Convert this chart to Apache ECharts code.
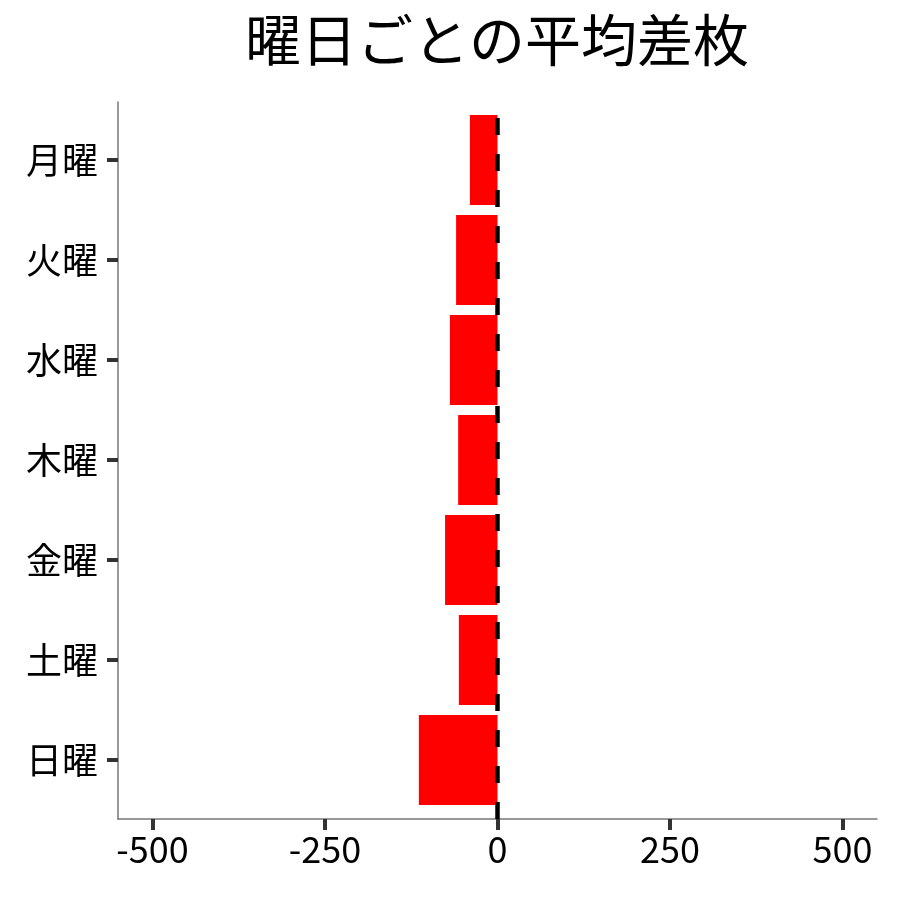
<!DOCTYPE html>
<html>
<head>
<meta charset="utf-8">
<script src="https://cdn.jsdelivr.net/npm/echarts@6/dist/echarts.min.js"></script>
<style>
  html, body { margin: 0; padding: 0; background: #fff; }
  #chart { width: 900px; height: 900px; }
</style>
</head>
<body>
<div id="chart"></div>
<script>
// 曜日ごとの平均差枚
const days = ['月曜', '火曜', '水曜', '木曜', '金曜', '土曜', '日曜'];
const avgDiff = [-40, -60, -69, -57, -76, -56, -114];
const xTicks = [-500, -250, 0, 250, 500];

const FONT = '"Noto Sans CJK JP", "Noto Sans", sans-serif';

const chart = echarts.init(document.getElementById('chart'));

const option = {
    backgroundColor: '#fff',
    animation: false,
    title: {
        text: '曜日ごとの平均差枚',
        left: 492,
        textAlign: 'center',
        top: 7,
        textStyle: { fontFamily: FONT, fontSize: 56, fontWeight: 'normal', color: '#000' }
    },
    grid: [
        // 軸線用
        { left: 118, right: 23, top: 102, bottom: 81 },
        // 棒グラフ用
        { left: 118, right: 23, top: 110, height: 700 }
    ],
    xAxis: [
        {
            gridIndex: 0,
            type: 'value',
            min: -550,
            max: 550,
            axisLine: { show: true, onZero: false, lineStyle: { color: '#777', width: 1.5 } },
            axisTick: { show: true, customValues: xTicks, length: 11, lineStyle: { color: '#333', width: 4 } },
            axisLabel: { customValues: xTicks, margin: 12, fontFamily: FONT, fontSize: 36, color: '#000' },
            splitLine: { show: false }
        },
        {
            gridIndex: 1,
            type: 'value',
            min: -550,
            max: 550,
            show: false
        }
    ],
    yAxis: [
        {
            gridIndex: 0,
            type: 'value',
            min: 0,
            max: 1,
            axisLine: { show: true, onZero: false, lineStyle: { color: '#777', width: 1.5 } },
            axisTick: { show: false },
            axisLabel: { show: false },
            splitLine: { show: false }
        },
        {
            gridIndex: 1,
            type: 'category',
            data: days,
            inverse: true,
            axisLine: { show: true, onZero: false, lineStyle: { color: 'rgba(0,0,0,0)' } },
            axisTick: { show: true, interval: 0, alignWithLabel: true, length: 11, lineStyle: { color: '#333', width: 4 } },
            axisLabel: { margin: 20, fontFamily: FONT, fontSize: 36, color: '#000' },
            splitLine: { show: false }
        }
    ],
    series: [
        {
            type: 'bar',
            xAxisIndex: 1,
            yAxisIndex: 1,
            data: avgDiff,
            barCategoryGap: '10%',
            itemStyle: { color: '#ff0000' },
            z: 2
        },
        {
            // ゼロの破線（下から描く）
            type: 'line',
            xAxisIndex: 0,
            yAxisIndex: 0,
            data: [],
            z: 5,
            markLine: {
                silent: true,
                symbol: 'none',
                label: { show: false },
                lineStyle: { color: '#000', width: 4.5, type: [17, 19] },
                data: [[{ coord: [0, 0] }, { coord: [0, 1] }]]
            }
        }
    ]
};

chart.setOption(option);
</script>
</body>
</html>
